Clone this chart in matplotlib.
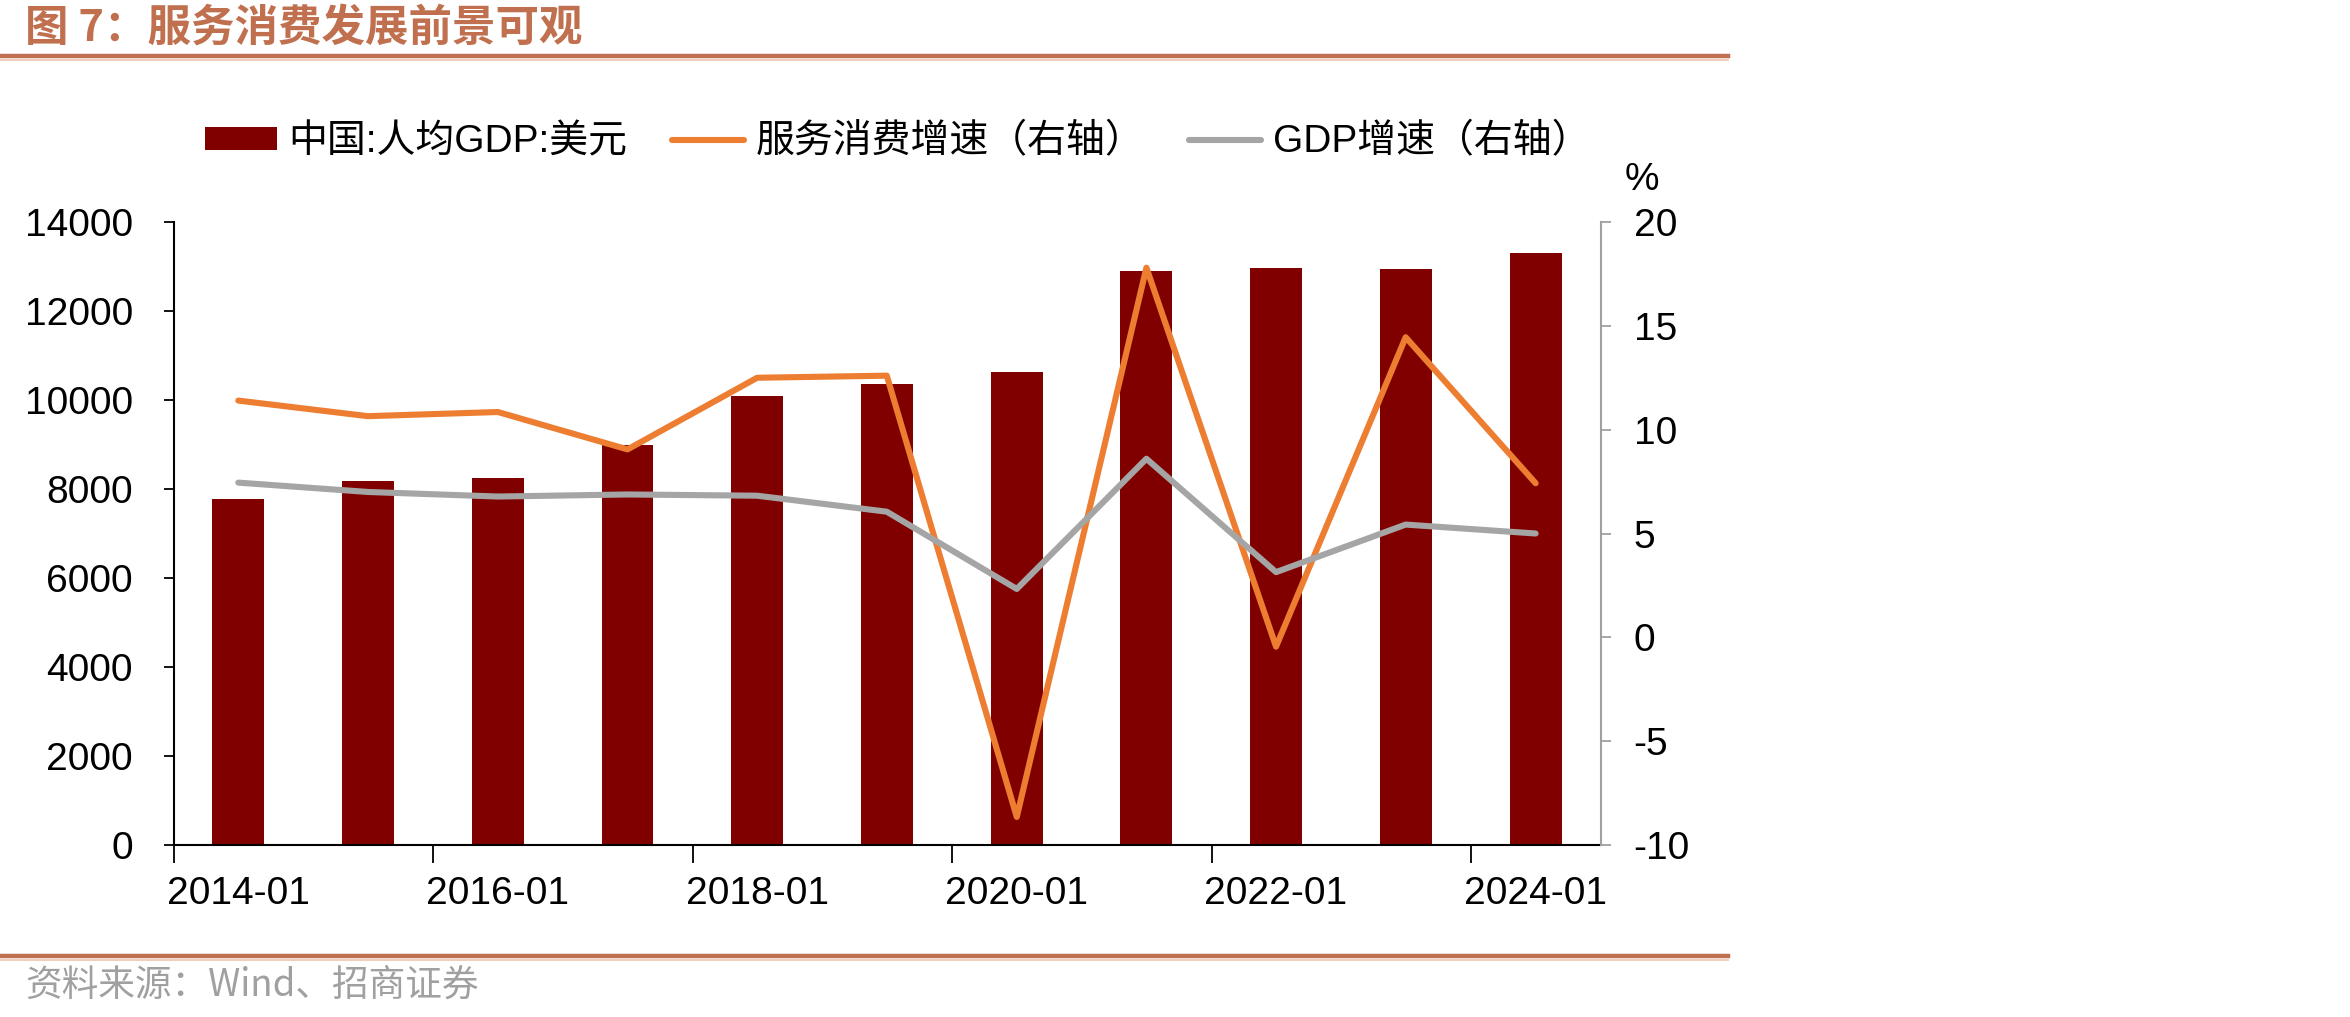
import datetime as dt
import matplotlib
matplotlib.use("Agg")
import matplotlib.pyplot as plt
from matplotlib.lines import Line2D

plt.rcParams['font.family'] = ['Liberation Sans', 'Noto Sans CJK SC', 'DejaVu Sans']

# ---------------- data ----------------
years = [2014, 2015, 2016, 2017, 2018, 2019, 2020, 2021, 2022, 2023, 2024]
gdp_per_capita_usd = [7780, 8170, 8250, 8980, 10090, 10350, 10630, 12900, 12970, 12955, 13310]
service_consumption_growth = [11.4, 10.65, 10.85, 9.05, 12.5, 12.6, -8.65, 17.8, -0.45, 14.45, 7.42]
gdp_growth = [7.45, 7.0, 6.78, 6.88, 6.82, 6.05, 2.33, 8.6, 3.14, 5.43, 5.0]
label_years = [2014, 2016, 2018, 2020, 2022, 2024]
x_tick_labels = ['2014-01', '2016-01', '2018-01', '2020-01', '2022-01', '2024-01']
left_ticks = [0, 2000, 4000, 6000, 8000, 10000, 12000, 14000]
right_ticks = [-10, -5, 0, 5, 10, 15, 20]

series_names = ['中国:人均GDP:美元', '服务消费增速（右轴）', 'GDP增速（右轴）']
title = '图 7：服务消费发展前景可观'
source = '资料来源：Wind、招商证券'

# ---------------- style ----------------
BAR = '#800000'
ORANGE = '#ED7D31'
GRAY = '#A5A5A5'
BROWN = '#C0704F'
FS = 28

W, H = 2350, 1017
fig = plt.figure(figsize=(W / 100, H / 100), dpi=100)
L, R, T, B = 174, 1601, 222, 845
ax = fig.add_axes([L / W, 1 - B / H, (R - L) / W, (B - T) / H])
ax2 = ax.twinx()

dates = [dt.date(y, 7, 1) for y in years]
ax.bar(dates, gdp_per_capita_usd, width=146, color=BAR, label=series_names[0], zorder=2)
ax2.plot(dates, service_consumption_growth, color=ORANGE, lw=4.4,
         solid_capstyle='round', solid_joinstyle='round', label=series_names[1], zorder=3)
ax2.plot(dates, gdp_growth, color=GRAY, lw=4.4,
         solid_capstyle='round', solid_joinstyle='round', label=series_names[2], zorder=3)

ax.set_xlim(dt.date(2014, 1, 1), dt.date(2025, 1, 1))
ax.set_ylim(0, 14000)
ax2.set_ylim(-10, 20)

ax.set_yticks(left_ticks)
ax.set_yticklabels([str(v) for v in left_ticks])
ax2.set_yticks(right_ticks)
ax2.set_yticklabels([str(v) for v in right_ticks])

ax.set_xticks([dt.date(y, 1, 1) for y in label_years])
ax.set_xticklabels([])
ax.set_xticks([dt.date(y, 7, 1) for y in label_years], minor=True)
ax.set_xticklabels(x_tick_labels, minor=True)

ax.tick_params(axis='x', which='major', direction='out', length=13, width=1.3, color='black')
ax.tick_params(axis='x', which='minor', length=0, pad=22, labelsize=FS)
ax.tick_params(axis='y', direction='out', length=7.5, width=1.3, color='black',
               labelsize=FS, pad=22)
ax2.tick_params(axis='y', direction='out', length=7.5, width=1.3, color='#A0A0A0',
                labelsize=FS, pad=16)

for s in ['top', 'right']:
    ax.spines[s].set_visible(False)
for s in ['top', 'left', 'bottom']:
    ax2.spines[s].set_visible(False)
ax.spines['left'].set_linewidth(1.5)
ax.spines['bottom'].set_linewidth(1.5)
ax2.spines['right'].set_color('#A0A0A0')
ax2.spines['right'].set_linewidth(1.5)

fig.text(1642 / W, 1 - 180 / H, '%', fontsize=FS, ha='center', va='center')

h1, l1 = ax.get_legend_handles_labels()
h2, l2 = ax2.get_legend_handles_labels()
fig.legend(h1 + h2, l1 + l2, loc='center left', bbox_to_anchor=(205 / W, 1 - 142 / H),
           ncol=3, frameon=False, fontsize=FS, handlelength=1.85, handleheight=0.55,
           handletextpad=0.3, columnspacing=1.15, borderpad=0, borderaxespad=0)

# title, rules, source
fig.text(25 / W, 1 - 28 / H, title, fontsize=31.3, fontweight='bold', color=BROWN,
         ha='left', va='center', family=['Noto Sans CJK SC', 'DejaVu Sans'])
fig.add_artist(Line2D([0, 1728 / W], [1 - 56 / H] * 2, transform=fig.transFigure,
                      color=BROWN, lw=3.2))
fig.add_artist(Line2D([0, 1728 / W], [1 - 59.5 / H] * 2, transform=fig.transFigure,
                      color='#F2CDBE', lw=1.4))
fig.add_artist(Line2D([0, 1728 / W], [1 - 956 / H] * 2, transform=fig.transFigure,
                      color=BROWN, lw=3.2))
fig.add_artist(Line2D([0, 1728 / W], [1 - 959.5 / H] * 2, transform=fig.transFigure,
                      color='#F2CDBE', lw=1.4))
fig.text(25 / W, 1 - 985 / H, source, fontsize=26.4, color='#A0A0A0',
         ha='left', va='center', family=['Noto Sans CJK SC', 'DejaVu Sans'])

fig.savefig('out.png', dpi=100)
